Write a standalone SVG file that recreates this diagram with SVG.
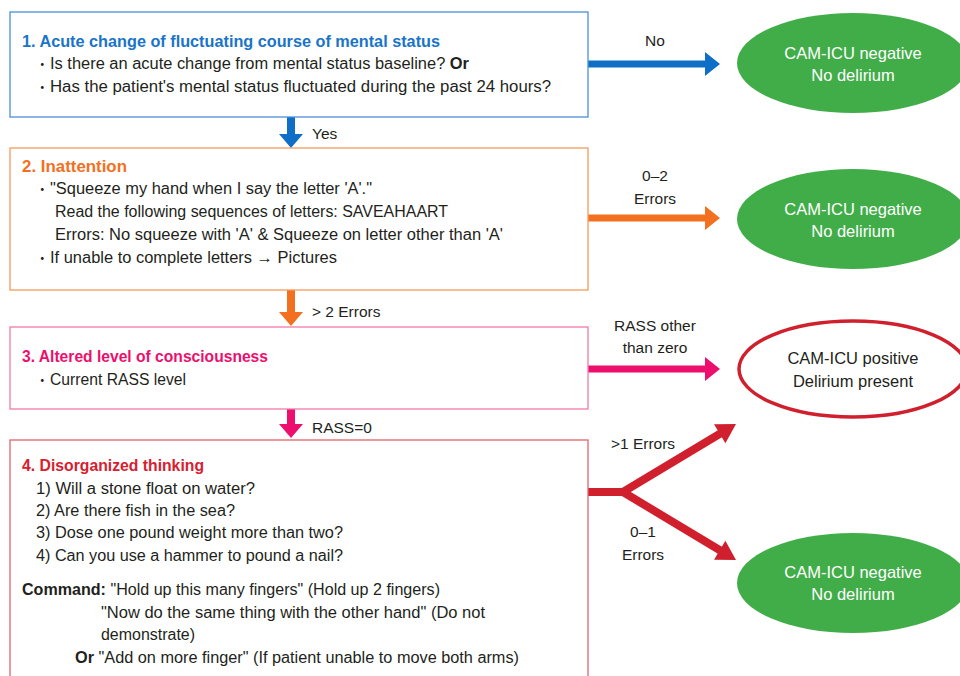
<svg xmlns="http://www.w3.org/2000/svg" width="960" height="676" viewBox="0 0 960 676">
<style>
text{font-family:"Liberation Sans","Noto Sans CJK JP",sans-serif;font-size:16px;fill:#231f20}
.l{font-size:15.5px}
.t{font-size:16.2px;font-weight:600}
.b{font-weight:bold}
.d{font-size:13.5px}
.w{fill:#ffffff;font-size:16.5px}
.k{font-size:16.5px}
.c{text-anchor:middle}
.box{fill:#ffffff;stroke-width:1.3}
.g{fill:#41ad49}
</style>
<rect width="960" height="676" fill="#ffffff"/>
<g id="connectors">
  <line x1="588" y1="64" x2="707" y2="64" stroke="#0f6fc6" stroke-width="7"/>
  <polygon points="705,52 720,64 705,76" fill="#0f6fc6"/>
  <text class="c l" x="655" y="46">No</text>
  <line x1="291" y1="117" x2="291" y2="136" stroke="#0f6fc6" stroke-width="8"/>
  <polygon points="279,134 291,148 303,134" fill="#0f6fc6"/>
  <text class="l" x="312" y="139">Yes</text>
  <line x1="588" y1="218" x2="707" y2="218" stroke="#f37021" stroke-width="7"/>
  <polygon points="705,206 720,218 705,230" fill="#f37021"/>
  <text class="c l" x="655" y="181">0–2</text>
  <text class="c l" x="655" y="204">Errors</text>
  <line x1="291" y1="290" x2="291" y2="314" stroke="#f37021" stroke-width="8"/>
  <polygon points="279,312 291,326 303,312" fill="#f37021"/>
  <text class="l" x="312" y="317">&gt; 2 Errors</text>
  <line x1="588" y1="369" x2="707" y2="369" stroke="#ec0f6d" stroke-width="7"/>
  <polygon points="705,357 720,369 705,381" fill="#ec0f6d"/>
  <text class="c l" x="655" y="331">RASS other</text>
  <text class="c l" x="655" y="353">than zero</text>
  <line x1="291" y1="409" x2="291" y2="426" stroke="#ec0f6d" stroke-width="8"/>
  <polygon points="279,424 291,438 303,424" fill="#ec0f6d"/>
  <text class="l" x="312" y="433">RASS=0</text>
  <polyline points="588,492 623,492 722,432.5" fill="none" stroke="#d0202e" stroke-width="8" stroke-linejoin="miter"/>
  <line x1="623" y1="492" x2="722" y2="551.5" stroke="#d0202e" stroke-width="8"/>
  <polygon points="0,0 -19,-11 -19,11" fill="#d0202e" transform="translate(736,424) rotate(-31)"/>
  <polygon points="0,0 -19,-11 -19,11" fill="#d0202e" transform="translate(736,560) rotate(31)"/>
  <text class="c l" x="643" y="449">&gt;1 Errors</text>
  <text class="c l" x="643" y="537">0–1</text>
  <text class="c l" x="643" y="560">Errors</text>
</g>
<g id="box1">
  <rect class="box" x="10" y="12" width="578" height="105" stroke="#4a90d6"/>
  <text class="t" x="22" y="47" style="fill:#1a74c8" textLength="418" lengthAdjust="spacingAndGlyphs">1. Acute change of fluctuating course of mental status</text>
  <text class="d" x="35.5" y="69">・</text>
  <text x="50" y="69" textLength="419" lengthAdjust="spacingAndGlyphs">Is there an acute change from mental status baseline? <tspan class="b">Or</tspan></text>
  <text class="d" x="35.5" y="92">・</text>
  <text x="50" y="92" textLength="501" lengthAdjust="spacingAndGlyphs">Has the patient's mental status fluctuated during the past 24 hours?</text>
</g>
<g id="box2">
  <rect class="box" x="10" y="148" width="578" height="142" stroke="#f59a5c"/>
  <text class="t" x="22" y="172" style="fill:#f37021" textLength="105" lengthAdjust="spacingAndGlyphs">2. Inattention</text>
  <text class="d" x="35.5" y="194">・</text>
  <text x="50" y="194" textLength="322" lengthAdjust="spacingAndGlyphs">"Squeeze my hand when I say the letter 'A'."</text>
  <text x="55" y="217" textLength="393" lengthAdjust="spacingAndGlyphs">Read the following sequences of letters: SAVEAHAART</text>
  <text x="55" y="240" textLength="448" lengthAdjust="spacingAndGlyphs">Errors: No squeeze with 'A' &amp; Squeeze on letter other than 'A'</text>
  <text class="d" x="35.5" y="263">・</text>
  <text x="50" y="263" textLength="287" lengthAdjust="spacingAndGlyphs">If unable to complete letters → Pictures</text>
</g>
<g id="box3">
  <rect class="box" x="10" y="327" width="578" height="82" stroke="#f27aa8"/>
  <text class="t" x="22" y="362" style="fill:#ec0f6d" textLength="246" lengthAdjust="spacingAndGlyphs">3. Altered level of consciousness</text>
  <text class="d" x="35.5" y="385">・</text>
  <text x="50" y="385" textLength="136" lengthAdjust="spacingAndGlyphs">Current RASS level</text>
</g>
<g id="box4">
  <rect class="box" x="10" y="440" width="578" height="250" stroke="#e2646c"/>
  <text class="t" x="22" y="471" style="fill:#d7202f" textLength="182" lengthAdjust="spacingAndGlyphs">4. Disorganized thinking</text>
  <text x="36" y="494" textLength="219" lengthAdjust="spacingAndGlyphs">1) Will a stone float on water?</text>
  <text x="36" y="516" textLength="199" lengthAdjust="spacingAndGlyphs">2) Are there fish in the sea?</text>
  <text x="36" y="538" textLength="307" lengthAdjust="spacingAndGlyphs">3) Dose one pound weight more than two?</text>
  <text x="36" y="561" textLength="307" lengthAdjust="spacingAndGlyphs">4) Can you use a hammer to pound a nail?</text>
  <text x="22" y="595" textLength="418" lengthAdjust="spacingAndGlyphs"><tspan class="b">Command:</tspan> "Hold up this many fingers" (Hold up 2 fingers)</text>
  <text x="101" y="618" textLength="384" lengthAdjust="spacingAndGlyphs">"Now do the same thing with the other hand" (Do not</text>
  <text x="101" y="640" textLength="94" lengthAdjust="spacingAndGlyphs">demonstrate)</text>
  <text x="75" y="663" textLength="444" lengthAdjust="spacingAndGlyphs"><tspan class="b">Or</tspan> "Add on more finger" (If patient unable to move both arms)</text>
</g>
<g id="result1">
  <ellipse class="g" cx="853" cy="63" rx="116" ry="50"/>
  <text class="w c" x="853" y="59">CAM-ICU negative</text>
  <text class="w c" x="853" y="81">No delirium</text>
</g>
<g id="result2">
  <ellipse class="g" cx="853" cy="219" rx="116" ry="50"/>
  <text class="w c" x="853" y="215">CAM-ICU negative</text>
  <text class="w c" x="853" y="237">No delirium</text>
</g>
<g id="result3">
  <ellipse cx="853" cy="369" rx="114" ry="48" fill="#ffffff" stroke="#d0202e" stroke-width="3.5"/>
  <text class="c k" x="853" y="364">CAM-ICU positive</text>
  <text class="c k" x="853" y="387">Delirium present</text>
</g>
<g id="result4">
  <ellipse class="g" cx="853" cy="583" rx="116" ry="50"/>
  <text class="w c" x="853" y="578">CAM-ICU negative</text>
  <text class="w c" x="853" y="600">No delirium</text>
</g>
</svg>
